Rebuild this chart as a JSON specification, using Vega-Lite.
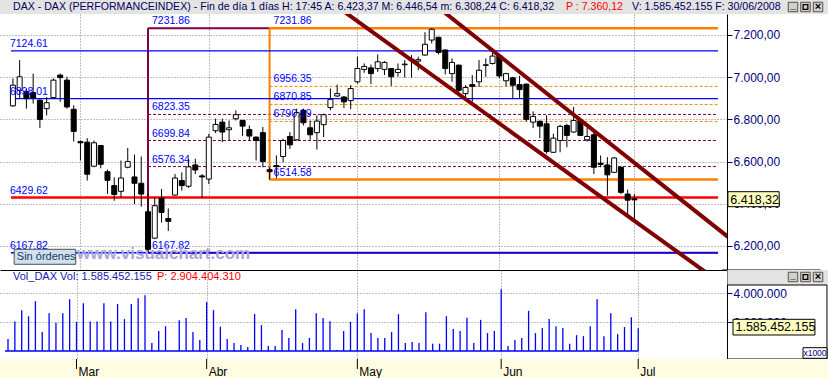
{
  "$schema": "https://vega.github.io/schema/vega-lite/v6.json",
  "padding": 0,
  "background": "#ffffff",
  "spacing": 0,
  "bounds": "flush",
  "config": {"view": {"stroke": null}, "font": "Liberation Sans", "text": {"font": "Liberation Sans"}, "axis": {"labelFont": "Liberation Sans"}},
  "datasets": {
    "velas": [
      {"i":0,"o":6864,"h":6994,"l":6860,"c":6962,"vol":830000},
      {"i":1,"o":6938,"h":7081,"l":6898,"c":7002,"vol":2050000},
      {"i":2,"o":6933,"h":6946,"l":6851,"c":6898,"vol":2830000},
      {"i":3,"o":6927,"h":7017,"l":6875,"c":6902,"vol":2410000},
      {"i":4,"o":6891,"h":6895,"l":6759,"c":6800,"vol":3450000},
      {"i":5,"o":6851,"h":6906,"l":6819,"c":6879,"vol":1310000},
      {"i":6,"o":6903,"h":6994,"l":6898,"c":6986,"vol":2620000},
      {"i":7,"o":7010,"h":7017,"l":6883,"c":6998,"vol":1950000},
      {"i":8,"o":6986,"h":7002,"l":6851,"c":6859,"vol":2620000},
      {"i":9,"o":6848,"h":6867,"l":6695,"c":6743,"vol":3590000},
      {"i":10,"o":6695,"h":6700,"l":6605,"c":6689,"vol":2020000},
      {"i":11,"o":6692,"h":6711,"l":6510,"c":6540,"vol":3310000},
      {"i":12,"o":6578,"h":6700,"l":6573,"c":6689,"vol":2050000},
      {"i":13,"o":6676,"h":6679,"l":6568,"c":6587,"vol":2050000},
      {"i":14,"o":6552,"h":6562,"l":6446,"c":6511,"vol":3310000},
      {"i":15,"o":6486,"h":6525,"l":6414,"c":6444,"vol":2050000},
      {"i":16,"o":6459,"h":6605,"l":6430,"c":6522,"vol":3260000},
      {"i":17,"o":6573,"h":6665,"l":6568,"c":6600,"vol":2210000},
      {"i":18,"o":6527,"h":6633,"l":6398,"c":6497,"vol":3260000},
      {"i":19,"o":6497,"h":6624,"l":6386,"c":6446,"vol":3660000},
      {"i":20,"o":6362,"h":6446,"l":6167.82,"c":6184,"vol":3860000},
      {"i":21,"o":6237,"h":6430,"l":6232,"c":6391,"vol":550000},
      {"i":22,"o":6427,"h":6470,"l":6311,"c":6359,"vol":1380000},
      {"i":23,"o":6330,"h":6378,"l":6271,"c":6317,"vol":1720000},
      {"i":24,"o":6441,"h":6541,"l":6438,"c":6522,"vol":0},
      {"i":25,"o":6510,"h":6549,"l":6462,"c":6486,"vol":2140000},
      {"i":26,"o":6483,"h":6613,"l":6475,"c":6575,"vol":2280000},
      {"i":27,"o":6584,"h":6613,"l":6541,"c":6560,"vol":1310000},
      {"i":28,"o":6532,"h":6541,"l":6427,"c":6527,"vol":760000},
      {"i":29,"o":6517,"h":6732,"l":6494,"c":6716,"vol":3400000},
      {"i":30,"o":6746,"h":6803,"l":6735,"c":6776,"vol":2830000},
      {"i":31,"o":6787,"h":6803,"l":6692,"c":6740,"vol":1680000},
      {"i":32,"o":6751,"h":6795,"l":6700,"c":6760,"vol":830000},
      {"i":33,"o":6803,"h":6843,"l":6795,"c":6822,"vol":550000},
      {"i":34,"o":6795,"h":6798,"l":6721,"c":6768,"vol":410000},
      {"i":35,"o":6752,"h":6771,"l":6700,"c":6721,"vol":280000},
      {"i":36,"o":6716,"h":6719,"l":6605,"c":6700,"vol":2570000},
      {"i":37,"o":6737,"h":6764,"l":6573,"c":6600,"vol":1790000},
      {"i":38,"o":6562,"h":6573,"l":6514.58,"c":6552,"vol":340000},
      {"i":39,"o":6581,"h":6629,"l":6521,"c":6576,"vol":340000},
      {"i":40,"o":6624,"h":6708,"l":6597,"c":6700,"vol":1450000},
      {"i":41,"o":6719,"h":6740,"l":6660,"c":6679,"vol":900000},
      {"i":42,"o":6703,"h":6851,"l":6700,"c":6832,"vol":2900000},
      {"i":43,"o":6843,"h":6851,"l":6771,"c":6784,"vol":550000},
      {"i":44,"o":6760,"h":6795,"l":6703,"c":6727,"vol":900000},
      {"i":45,"o":6737,"h":6819,"l":6657,"c":6792,"vol":2620000},
      {"i":46,"o":6775,"h":6827,"l":6716,"c":6822,"vol":2280000},
      {"i":47,"o":6856,"h":6946,"l":6843,"c":6895,"vol":2070000},
      {"i":48,"o":6911,"h":6965,"l":6906,"c":6922,"vol":70000},
      {"i":49,"o":6906,"h":6911,"l":6854,"c":6883,"vol":1380000},
      {"i":50,"o":6889,"h":6962,"l":6848,"c":6946,"vol":2020000},
      {"i":51,"o":6978,"h":7097,"l":6970,"c":7041,"vol":2600000},
      {"i":52,"o":7037,"h":7065,"l":7021,"c":7051,"vol":2900000},
      {"i":53,"o":7044,"h":7060,"l":6967,"c":7017,"vol":1240000},
      {"i":54,"o":7041,"h":7108,"l":7025,"c":7073,"vol":900000},
      {"i":55,"o":7037,"h":7076,"l":7010,"c":7070,"vol":900000},
      {"i":56,"o":7041,"h":7044,"l":6959,"c":7002,"vol":1310000},
      {"i":57,"o":7022,"h":7065,"l":7002,"c":7037,"vol":2550000},
      {"i":58,"o":7059,"h":7081,"l":6998,"c":7062,"vol":550000},
      {"i":59,"o":7086,"h":7105,"l":6998,"c":7079,"vol":620000},
      {"i":60,"o":7076,"h":7097,"l":7033,"c":7083,"vol":550000},
      {"i":61,"o":7105,"h":7213,"l":7102,"c":7156,"vol":2690000},
      {"i":62,"o":7176,"h":7231.86,"l":7160,"c":7227,"vol":510000},
      {"i":63,"o":7189,"h":7192,"l":7108,"c":7117,"vol":510000},
      {"i":64,"o":7129,"h":7131,"l":7013,"c":7041,"vol":2410000},
      {"i":65,"o":7017,"h":7089,"l":6978,"c":7070,"vol":1520000},
      {"i":66,"o":7057,"h":7060,"l":6930,"c":6938,"vol":1380000},
      {"i":67,"o":6922,"h":6962,"l":6906,"c":6951,"vol":2300000},
      {"i":68,"o":6965,"h":7010,"l":6883,"c":6956,"vol":550000},
      {"i":69,"o":6978,"h":7081,"l":6954,"c":7033,"vol":2160000},
      {"i":70,"o":7056,"h":7089,"l":7002,"c":7059,"vol":1240000},
      {"i":71,"o":7065,"h":7117,"l":7060,"c":7100,"vol":1380000},
      {"i":72,"o":7102,"h":7105,"l":6994,"c":7006,"vol":4280000},
      {"i":73,"o":6983,"h":7021,"l":6957,"c":7017,"vol":340000},
      {"i":74,"o":6997,"h":7002,"l":6898,"c":6962,"vol":760000},
      {"i":75,"o":6965,"h":7006,"l":6902,"c":6941,"vol":900000},
      {"i":76,"o":6967,"h":6970,"l":6791,"c":6800,"vol":2780000},
      {"i":77,"o":6787,"h":6838,"l":6759,"c":6814,"vol":1240000},
      {"i":78,"o":6791,"h":6795,"l":6711,"c":6768,"vol":1590000},
      {"i":79,"o":6779,"h":6819,"l":6637,"c":6648,"vol":2210000},
      {"i":80,"o":6644,"h":6732,"l":6641,"c":6711,"vol":1720000},
      {"i":81,"o":6700,"h":6775,"l":6644,"c":6767,"vol":1590000},
      {"i":82,"o":6771,"h":6779,"l":6668,"c":6724,"vol":510000},
      {"i":83,"o":6740,"h":6859,"l":6737,"c":6795,"vol":1100000},
      {"i":84,"o":6795,"h":6798,"l":6721,"c":6724,"vol":1030000},
      {"i":85,"o":6703,"h":6759,"l":6695,"c":6719,"vol":1720000},
      {"i":86,"o":6727,"h":6743,"l":6541,"c":6573,"vol":3590000},
      {"i":87,"o":6592,"h":6629,"l":6573,"c":6586,"vol":1030000},
      {"i":88,"o":6584,"h":6621,"l":6438,"c":6537,"vol":2620000},
      {"i":89,"o":6549,"h":6621,"l":6546,"c":6617,"vol":1170000},
      {"i":90,"o":6573,"h":6576,"l":6446,"c":6454,"vol":1660000},
      {"i":91,"o":6446,"h":6467,"l":6346,"c":6417,"vol":2340000},
      {"i":92,"o":6423.37,"h":6446.54,"l":6308.24,"c":6418.32,"vol":1585452}
    ],
    "niveles": [
      {"v":7231.86,"a":20,"b":38,"g":"fibo1"},
      {"v":6167.82,"a":20,"b":104.38,"g":"fibo1"},
      {"v":6823.35,"a":20,"b":104.38,"g":"fibo1_nivel"},
      {"v":6699.84,"a":20,"b":104.38,"g":"fibo1_nivel"},
      {"v":6576.34,"a":20,"b":104.38,"g":"fibo1_nivel"},
      {"v":7231.86,"a":38,"b":104.38,"g":"fibo2"},
      {"v":6514.58,"a":38,"b":104.38,"g":"fibo2"},
      {"v":6956.35,"a":38,"b":104.38,"g":"fibo2_nivel"},
      {"v":6870.85,"a":38,"b":104.38,"g":"fibo2_nivel"},
      {"v":6790.19,"a":38,"b":104.38,"g":"fibo2_nivel"},
      {"v":7124.61,"a":-0.29,"b":104.38,"g":"azul"},
      {"v":6898.01,"a":-0.29,"b":104.38,"g":"azul"},
      {"v":6167.82,"a":-0.29,"b":104.38,"g":"azul"},
      {"v":6429.62,"a":-0.29,"b":104.38,"g":"rojo"}
    ],
    "verticales": [
      {"i":20,"v":6167.82,"v2":7231.86,"g":"fibo1"},
      {"i":38,"v":6514.58,"v2":7231.86,"g":"fibo2"}
    ],
    "canal": [
      {"linea":"superior","i":63.07,"v":7327.8},
      {"linea":"superior","i":106.86,"v":6217.4},
      {"linea":"inferior","i":48.47,"v":7323.8},
      {"linea":"inferior","i":106.86,"v":5976.1}
    ],
    "meses": [
      {"i":10,"m":"Mar"},
      {"i":29,"m":"Abr"},
      {"i":51,"m":"May"},
      {"i":72,"m":"Jun"},
      {"i":92,"m":"Jul"}
    ]
  },
  "vconcat": [
    {
      "width": 828,
      "height": 14,
      "view": {"fill": "#e3e3e3", "stroke": null},
      "layer": [
        {
          "data": {"values": [{}]},
          "mark": {"type": "text", "align": "left", "baseline": "middle", "fontSize": 10.6, "color": "#00005a"},
          "encoding": {
            "x": {"datum": 0.73, "type": "quantitative", "scale": {"domain": [-1.168, 119.708], "nice": false, "zero": false}, "axis": null},
            "text": {"value": "DAX - DAX (PERFORMANCEINDEX) - Fin de día 1 días H: 17:45 A: 6.423,37 M: 6.446,54 m: 6.308,24 C: 6.418,32"}
          }
        },
        {
          "data": {"values": [{}]},
          "mark": {"type": "text", "align": "left", "baseline": "middle", "fontSize": 10.6, "color": "#ff0000"},
          "encoding": {
            "x": {"datum": 81.46, "type": "quantitative", "axis": null},
            "text": {"value": "P : 7.360,12"}
          }
        },
        {
          "data": {"values": [{}]},
          "mark": {"type": "text", "align": "left", "baseline": "middle", "fontSize": 10.6, "color": "#00005a"},
          "encoding": {
            "x": {"datum": 91.09, "type": "quantitative", "axis": null},
            "text": {"value": "V: 1.585.452.155 F: 30/06/2008"}
          }
        },
        {
          "data": {"values": [{}]},
          "mark": {"type": "point", "shape": "square", "size": 90, "fill": "#d4d0c8", "stroke": "#505050", "strokeWidth": 1, "opacity": 1},
          "encoding": {"x": {"datum": 114.6, "type": "quantitative", "axis": null}}
        },
        {
          "data": {"values": [{}]},
          "mark": {"type": "point", "shape": "square", "size": 90, "fill": "#d4d0c8", "stroke": "#505050", "strokeWidth": 1, "opacity": 1},
          "encoding": {"x": {"datum": 116.42, "type": "quantitative", "axis": null}}
        },
        {
          "data": {"values": [{}]},
          "mark": {"type": "point", "shape": "square", "size": 90, "fill": "#d4d0c8", "stroke": "#505050", "strokeWidth": 1, "opacity": 1},
          "encoding": {"x": {"datum": 118.25, "type": "quantitative", "axis": null}}
        },
        {
          "data": {"values": [{}]},
          "mark": {"type": "text", "align": "center", "baseline": "middle", "fontSize": 10, "fontWeight": "bold", "dy": -2, "color": "#000000"},
          "encoding": {"x": {"datum": 114.6, "type": "quantitative", "axis": null}, "text": {"value": "_"}}
        },
        {
          "data": {"values": [{}]},
          "mark": {"type": "point", "shape": "square", "size": 22, "filled": false, "stroke": "#000000", "strokeWidth": 1.3, "opacity": 1},
          "encoding": {"x": {"datum": 116.42, "type": "quantitative", "axis": null}}
        },
        {
          "data": {"values": [{}]},
          "mark": {"type": "text", "align": "center", "baseline": "middle", "fontSize": 11, "fontWeight": "bold", "color": "#000000"},
          "encoding": {"x": {"datum": 118.25, "type": "quantitative", "axis": null}, "text": {"value": "×"}}
        }
      ]
    },
    {
      "width": 727,
      "height": 256,
      "layer": [
        {
          "data": {"name": "niveles"},
          "transform": [{"filter": "datum.g == 'fibo1'"}],
          "mark": {"type": "rule", "color": "#800040", "strokeWidth": 2},
          "encoding": {
            "x": {"field": "a", "type": "quantitative", "scale": {"domain": [-1.168, 104.964], "nice": false, "zero": false},
                  "axis": {"orient": "bottom", "values": [10, 29, 51, 72, 92], "labels": false, "ticks": false, "domain": true, "domainColor": "#000000", "domainWidth": 1, "grid": true, "gridColor": "#808080", "gridDash": [1, 2], "gridWidth": 1, "title": null}},
            "x2": {"field": "b"},
            "y": {"field": "v", "type": "quantitative", "scale": {"domain": [6086, 7299.5], "nice": false, "zero": false},
                  "axis": {"orient": "right", "values": [6200, 6400, 6600, 6800, 7000, 7200], "labelExpr": "replace(replace(replace(format(datum.value, ',.2f'), ',', '_'), '.', ','), '_', '.')", "labelColor": "#000080", "labelFontSize": 12, "labelPadding": 1, "tickColor": "#000080", "tickSize": 5, "domain": true, "domainColor": "#000000", "grid": true, "gridColor": "#808080", "gridDash": [1, 2], "title": null}}
          }
        },
        {
          "data": {"name": "niveles"},
          "transform": [{"filter": "datum.g == 'fibo1_nivel'"}],
          "mark": {"type": "rule", "color": "#800040", "strokeWidth": 1, "strokeDash": [3, 2]},
          "encoding": {
            "x": {"field": "a", "type": "quantitative"},
            "x2": {"field": "b"},
            "y": {"field": "v", "type": "quantitative"}
          }
        },
        {
          "data": {"name": "niveles"},
          "transform": [{"filter": "datum.g == 'fibo2'"}],
          "mark": {"type": "rule", "color": "#ff8000", "strokeWidth": 2.5},
          "encoding": {
            "x": {"field": "a", "type": "quantitative"},
            "x2": {"field": "b"},
            "y": {"field": "v", "type": "quantitative"}
          }
        },
        {
          "data": {"name": "niveles"},
          "transform": [{"filter": "datum.g == 'fibo2_nivel'"}],
          "mark": {"type": "rule", "color": "#ff8000", "strokeWidth": 1, "strokeDash": [3, 2]},
          "encoding": {
            "x": {"field": "a", "type": "quantitative"},
            "x2": {"field": "b"},
            "y": {"field": "v", "type": "quantitative"}
          }
        },
        {
          "data": {"name": "verticales"},
          "mark": {"type": "rule", "strokeWidth": 2},
          "encoding": {
            "x": {"field": "i", "type": "quantitative"},
            "y": {"field": "v", "type": "quantitative"},
            "y2": {"field": "v2"},
            "color": {"condition": {"test": "datum.g == 'fibo1'", "value": "#800040"}, "value": "#ff8000"}
          }
        },
        {
          "data": {"name": "niveles"},
          "transform": [{"filter": "datum.g == 'azul'"}],
          "mark": {"type": "rule", "color": "#0000ff", "strokeWidth": 1.3},
          "encoding": {
            "x": {"field": "a", "type": "quantitative"},
            "x2": {"field": "b"},
            "y": {"field": "v", "type": "quantitative"}
          }
        },
        {
          "data": {"name": "niveles"},
          "transform": [{"filter": "datum.g == 'rojo'"}],
          "mark": {"type": "rule", "color": "#ff0000", "strokeWidth": 2.5},
          "encoding": {
            "x": {"field": "a", "type": "quantitative"},
            "x2": {"field": "b"},
            "y": {"field": "v", "type": "quantitative"}
          }
        },
        {
          "data": {"name": "velas"},
          "mark": {"type": "rule", "color": "#000000", "strokeWidth": 1},
          "encoding": {
            "x": {"field": "i", "type": "quantitative"},
            "y": {"field": "l", "type": "quantitative"},
            "y2": {"field": "h"}
          }
        },
        {
          "data": {"name": "velas"},
          "mark": {"type": "bar", "size": 5, "stroke": "#000000", "strokeWidth": 1},
          "encoding": {
            "x": {"field": "i", "type": "quantitative"},
            "y": {"field": "o", "type": "quantitative"},
            "y2": {"field": "c"},
            "fill": {"condition": {"test": "datum.c >= datum.o", "value": "#ffffff"}, "value": "#000000"}
          }
        },
        {
          "data": {"name": "canal"},
          "mark": {"type": "line", "color": "#800000", "strokeWidth": 4, "clip": true},
          "encoding": {
            "x": {"field": "i", "type": "quantitative"},
            "y": {"field": "v", "type": "quantitative"},
            "detail": {"field": "linea"}
          }
        },
        {
          "data": {"name": "niveles"},
          "transform": [{"filter": "datum.g == 'azul' || datum.g == 'rojo'"}],
          "mark": {"type": "text", "align": "left", "baseline": "alphabetic", "dx": -1, "dy": -4, "fontSize": 10.5, "color": "#0000ff"},
          "encoding": {
            "x": {"field": "a", "type": "quantitative"},
            "y": {"field": "v", "type": "quantitative"},
            "text": {"field": "v", "type": "quantitative", "format": ".2f"}
          }
        },
        {
          "data": {"name": "niveles"},
          "transform": [{"filter": "datum.g != 'azul' && datum.g != 'rojo'"}],
          "mark": {"type": "text", "align": "left", "baseline": "alphabetic", "dx": 4, "dy": -4, "fontSize": 10.5, "color": "#0000ff"},
          "encoding": {
            "x": {"field": "a", "type": "quantitative"},
            "y": {"field": "v", "type": "quantitative"},
            "text": {"field": "v", "type": "quantitative", "format": ".2f"}
          }
        },
        {
          "data": {"values": [{}]},
          "mark": {"type": "text", "align": "left", "baseline": "alphabetic", "fontSize": 17, "fontWeight": "bold", "color": "#a8a8d8"},
          "encoding": {
            "x": {"datum": 9.49, "type": "quantitative"},
            "y": {"datum": 6138, "type": "quantitative"},
            "text": {"value": "www.visualchart.com"}
          }
        },
        {
          "data": {"values": [{}]},
          "mark": {"type": "rect", "fill": "#cfe0ee", "stroke": "#505050", "strokeWidth": 1},
          "encoding": {
            "x": {"datum": 0.19, "type": "quantitative"},
            "x2": {"datum": 9.3},
            "y": {"datum": 6184.2, "type": "quantitative"},
            "y2": {"datum": 6113.1}
          }
        },
        {
          "data": {"values": [{}]},
          "mark": {"type": "text", "align": "left", "baseline": "middle", "fontSize": 11, "color": "#1a3a5a"},
          "encoding": {
            "x": {"datum": 0.58, "type": "quantitative"},
            "y": {"datum": 6149, "type": "quantitative"},
            "text": {"value": "Sin órdenes"}
          }
        },
        {
          "data": {"values": [{}]},
          "mark": {"type": "rule", "color": "#000000", "strokeWidth": 1},
          "encoding": {
            "x": {"datum": 104.96, "type": "quantitative"},
            "x2": {"datum": 119.56},
            "y": {"datum": 6086, "type": "quantitative"}
          }
        },
        {
          "data": {"values": [{}]},
          "mark": {"type": "rect", "fill": "#ffffc0", "stroke": "#000000", "strokeWidth": 1},
          "encoding": {
            "x": {"datum": 105.84, "type": "quantitative"},
            "x2": {"datum": 113.43},
            "y": {"datum": 6457.2, "type": "quantitative"},
            "y2": {"datum": 6386.1}
          }
        },
        {
          "data": {"values": [{}]},
          "mark": {"type": "text", "align": "left", "baseline": "middle", "fontSize": 12.5, "color": "#000000"},
          "encoding": {
            "x": {"datum": 106.2, "type": "quantitative"},
            "y": {"datum": 6420, "type": "quantitative"},
            "text": {"value": "6.418,32"}
          }
        }
      ]
    },
    {
      "width": 727,
      "height": 89,
      "layer": [
        {
          "data": {"name": "velas"},
          "mark": {"type": "rule", "color": "#0000ff", "strokeWidth": 1.3},
          "encoding": {
            "x": {"field": "i", "type": "quantitative", "scale": {"domain": [-1.168, 104.964], "nice": false, "zero": false},
                  "axis": {"orient": "bottom", "values": [10, 29, 51, 72, 92], "labels": false, "ticks": false, "domain": true, "domainColor": "#000000", "grid": true, "gridColor": "#808080", "gridDash": [1, 2], "title": null}},
            "y": {"field": "vol", "type": "quantitative", "scale": {"domain": [-554600, 5615300], "nice": false, "zero": false},
                  "axis": {"orient": "right", "values": [2000000, 4000000], "labelExpr": "format(datum.value/1000000, 'd') + '.000.000'", "labelColor": "#000080", "labelFontSize": 12, "labelPadding": 1, "tickColor": "#000080", "tickSize": 5, "domain": true, "domainColor": "#000000", "grid": true, "gridColor": "#808080", "gridDash": [1, 2], "title": null}},
            "y2": {"datum": 0}
          }
        },
        {
          "data": {"values": [{}]},
          "mark": {"type": "rule", "color": "#0000ff", "strokeWidth": 1.5},
          "encoding": {
            "x": {"datum": -0.44, "type": "quantitative"},
            "x2": {"datum": 92},
            "y": {"datum": 0, "type": "quantitative"}
          }
        },
        {
          "data": {"values": [{}]},
          "mark": {"type": "text", "align": "left", "baseline": "middle", "fontSize": 11, "color": "#1818b0"},
          "encoding": {
            "x": {"datum": 0.73, "type": "quantitative"},
            "y": {"datum": 5109000, "type": "quantitative"},
            "text": {"value": "Vol_DAX Vol: 1.585.452.155"}
          }
        },
        {
          "data": {"values": [{}]},
          "mark": {"type": "text", "align": "left", "baseline": "middle", "fontSize": 11, "color": "#ff0000"},
          "encoding": {
            "x": {"datum": 21.75, "type": "quantitative"},
            "y": {"datum": 5109000, "type": "quantitative"},
            "text": {"value": "P: 2.904.404.310"}
          }
        },
        {
          "data": {"values": [{}]},
          "mark": {"type": "rect", "fill": "#e3e3e3"},
          "encoding": {
            "x": {"datum": 105.03, "type": "quantitative"},
            "x2": {"datum": 119.71},
            "y": {"datum": 5615300, "type": "quantitative"},
            "y2": {"datum": 4575400}
          }
        },
        {
          "data": {"values": [{}]},
          "mark": {"type": "point", "shape": "square", "size": 90, "fill": "#d4d0c8", "stroke": "#505050", "strokeWidth": 1, "opacity": 1},
          "encoding": {"x": {"datum": 114.6, "type": "quantitative"}, "y": {"datum": 5130000, "type": "quantitative"}}
        },
        {
          "data": {"values": [{}]},
          "mark": {"type": "point", "shape": "square", "size": 90, "fill": "#d4d0c8", "stroke": "#505050", "strokeWidth": 1, "opacity": 1},
          "encoding": {"x": {"datum": 116.42, "type": "quantitative"}, "y": {"datum": 5130000, "type": "quantitative"}}
        },
        {
          "data": {"values": [{}]},
          "mark": {"type": "point", "shape": "square", "size": 90, "fill": "#d4d0c8", "stroke": "#505050", "strokeWidth": 1, "opacity": 1},
          "encoding": {"x": {"datum": 118.25, "type": "quantitative"}, "y": {"datum": 5130000, "type": "quantitative"}}
        },
        {
          "data": {"values": [{}]},
          "mark": {"type": "text", "align": "center", "baseline": "middle", "fontSize": 10, "fontWeight": "bold", "dy": -2, "color": "#000000"},
          "encoding": {"x": {"datum": 114.6, "type": "quantitative"}, "y": {"datum": 5130000, "type": "quantitative"}, "text": {"value": "_"}}
        },
        {
          "data": {"values": [{}]},
          "mark": {"type": "point", "shape": "square", "size": 22, "filled": false, "stroke": "#000000", "strokeWidth": 1.3, "opacity": 1},
          "encoding": {"x": {"datum": 116.42, "type": "quantitative"}, "y": {"datum": 5130000, "type": "quantitative"}}
        },
        {
          "data": {"values": [{}]},
          "mark": {"type": "text", "align": "center", "baseline": "middle", "fontSize": 11, "fontWeight": "bold", "color": "#000000"},
          "encoding": {"x": {"datum": 118.25, "type": "quantitative"}, "y": {"datum": 5130000, "type": "quantitative"}, "text": {"value": "×"}}
        },
        {
          "data": {"values": [{}]},
          "mark": {"type": "rule", "color": "#000000", "strokeWidth": 1},
          "encoding": {
            "x": {"datum": 104.96, "type": "quantitative"},
            "x2": {"datum": 119.56},
            "y": {"datum": 4575400, "type": "quantitative"}
          }
        },
        {
          "data": {"values": [{}]},
          "mark": {"type": "rule", "color": "#000000", "strokeWidth": 1},
          "encoding": {
            "x": {"datum": 119.56, "type": "quantitative"},
            "y": {"datum": 4575400, "type": "quantitative"},
            "y2": {"datum": -554600}
          }
        },
        {
          "data": {"values": [{}]},
          "mark": {"type": "rule", "color": "#000000", "strokeWidth": 1},
          "encoding": {
            "x": {"datum": 104.96, "type": "quantitative"},
            "x2": {"datum": 119.56},
            "y": {"datum": -554600, "type": "quantitative"}
          }
        },
        {
          "data": {"values": [{}]},
          "mark": {"type": "rect", "fill": "#ffffc0", "stroke": "#000000", "strokeWidth": 1},
          "encoding": {
            "x": {"datum": 105.84, "type": "quantitative"},
            "x2": {"datum": 117.8},
            "y": {"datum": 2197600, "type": "quantitative"},
            "y2": {"datum": 1109200}
          }
        },
        {
          "data": {"values": [{}]},
          "mark": {"type": "text", "align": "left", "baseline": "middle", "fontSize": 12.5, "color": "#000000"},
          "encoding": {
            "x": {"datum": 106.2, "type": "quantitative"},
            "y": {"datum": 1650000, "type": "quantitative"},
            "text": {"value": "1.585.452.155"}
          }
        },
        {
          "data": {"values": [{}]},
          "mark": {"type": "rect", "fill": "#ffffff", "stroke": "#000000", "strokeWidth": 1},
          "encoding": {
            "x": {"datum": 116.06, "type": "quantitative"},
            "x2": {"datum": 119.56},
            "y": {"datum": 228800, "type": "quantitative"},
            "y2": {"datum": -506100}
          }
        },
        {
          "data": {"values": [{}]},
          "mark": {"type": "text", "align": "center", "baseline": "middle", "fontSize": 8.5, "color": "#000080"},
          "encoding": {
            "x": {"datum": 117.81, "type": "quantitative"},
            "y": {"datum": -138600, "type": "quantitative"},
            "text": {"value": "x1000"}
          }
        }
      ]
    },
    {
      "width": 828,
      "height": 10,
      "view": {"fill": "#fffde1", "stroke": null},
      "data": {"name": "meses"},
      "mark": {"type": "rule", "color": "#000000", "strokeWidth": 1},
      "encoding": {
        "x": {"field": "i", "type": "quantitative", "scale": {"domain": [-1.168, 119.708], "nice": false, "zero": false}, "axis": null}
      }
    },
    {
      "width": 828,
      "height": 9,
      "view": {"fill": "#fffde1", "stroke": null},
      "data": {"name": "meses"},
      "mark": {"type": "text", "align": "left", "baseline": "middle", "dx": 2, "dy": -2, "fontSize": 12, "color": "#000000"},
      "encoding": {
        "x": {"field": "i", "type": "quantitative", "scale": {"domain": [-1.168, 119.708], "nice": false, "zero": false}, "axis": null},
        "text": {"field": "m"}
      }
    }
  ]
}
